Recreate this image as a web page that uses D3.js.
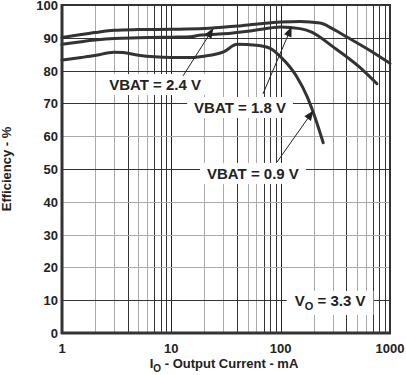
<!DOCTYPE html>
<html>
<head>
<meta charset="utf-8">
<script src="https://cdn.jsdelivr.net/npm/d3@7"></script>
<style>
  body { margin: 0; background: #fff; }
  svg text { font-family: "Liberation Sans", Arial, sans-serif; font-weight: bold; fill: #222; }
</style>
</head>
<body>
<svg id="chart"></svg>
<script>
// values: [output current mA, efficiency %]
const vbat24 = [[1,90.1],[1.5,91],[2,91.6],[3,92.3],[5,92.5],[10,92.6],[20,92.8],[40,93.6],[65,94.3],[100,94.8],[150,95],[230,94.5],[300,92.7],[400,90.3],[650,86.2],[1000,82.2]]
const vbat18 = [[1,88],[1.5,88.8],[2,89.3],[3,89.8],[5,90],[10,90.2],[15,90.3],[18,90.8],[30,91.2],[50,92],[80,93],[100,93.3],[150,92.8],[190,91.8],[300,87.3],[530,81],[760,76]]
const vbat09 = [[1,83.2],[1.5,84],[2,84.6],[3,85.6],[3.6,85.5],[5,84.7],[7,84.2],[10,84],[15,84],[20,84.4],[30,85.7],[40,88],[60,87.7],[80,86.8],[100,84.2],[140,78.2],[175,72],[200,67],[245,58]]

const xTicks = [1,10,100,1000]
const yTicks = [0,10,20,30,40,50,60,70,80,90,100]
const yDark = [10,50,70,80,90]
const minorDark = [4,7,8,9]

// annotations: label centre, arrow start, arrow tip (data coords)
const notes = [
  {text:'VBAT = 2.4 V', at:[7.1,75.6], from:[12.8,78.4], to:[24,92.7]},
  {text:'VBAT = 1.8 V', at:[42.5,68.6], from:[68.9,72.9], to:[125,93.1]},
  {text:'VBAT = 0.9 V', at:[55.8,48.5], from:[92.5,52.1], to:[197,67.6]}
]

const W = 406, H = 375
const m = {top:5, right:16, bottom:42, left:62}
const iw = W - m.left - m.right
const ih = H - m.top - m.bottom

const svg = d3.select('#chart').attr('width', W).attr('height', H)
const g = svg.append('g').attr('transform', `translate(${m.left},${m.top})`)

const x = d3.scaleLog().domain([1,1000]).range([0,iw])
const y = d3.scaleLinear().domain([0,100]).range([ih,0])

// grid
const minors = []
for (let d = 1; d < 1000; d *= 10)
  for (let k = 2; k <= 9; k++) minors.push({v:d*k, k:k})
g.selectAll('.vgrid').data(minors).enter().append('line')
  .attr('x1', d => Math.round(x(d.v)) + 0.5).attr('x2', d => Math.round(x(d.v)) + 0.5)
  .attr('y1', 0).attr('y2', ih)
  .attr('stroke', d => minorDark.includes(d.k) ? '#333' : '#aaa')
g.selectAll('.vmajor').data([10,100]).enter().append('line')
  .attr('x1', d => Math.round(x(d)) + 0.5).attr('x2', d => Math.round(x(d)) + 0.5)
  .attr('y1', 0).attr('y2', ih).attr('stroke', '#222')
g.selectAll('.hgrid').data(yTicks.slice(1,-1)).enter().append('line')
  .attr('x1', 0).attr('x2', iw)
  .attr('y1', d => Math.round(y(d)) + 0.5).attr('y2', d => Math.round(y(d)) + 0.5)
  .attr('stroke', d => yDark.includes(d) ? '#333' : '#aaa')

// V_O label box (drawn before curves)
const vo = g.append('g')
const voRect = vo.append('rect').attr('fill', '#fff')
const voText = vo.append('text').attr('x', x(283)).attr('y', y(9.76) + 5)
  .attr('text-anchor', 'middle').attr('font-size', 15)
voText.append('tspan').text('V')
voText.append('tspan').attr('font-size', 11).attr('dy', 4).text('O')
voText.append('tspan').attr('dy', -4).text(' = 3.3 V')
const vb = voText.node().getBBox()
voRect.attr('x', vb.x - 8).attr('y', vb.y - 1).attr('width', vb.width + 16).attr('height', vb.height + 4)

// frame
g.append('rect').attr('x', 0).attr('y', 0).attr('width', iw).attr('height', ih)
  .attr('fill', 'none').attr('stroke', '#333').attr('stroke-width', 2)
g.append('line').attr('x1', 0).attr('x2', 0).attr('y1', -1).attr('y2', ih + 1)
  .attr('stroke', '#333').attr('stroke-width', 3)
g.append('line').attr('x1', -1).attr('x2', iw + 1).attr('y1', ih).attr('y2', ih)
  .attr('stroke', '#333').attr('stroke-width', 3)

// curves
const line = d3.line().x(d => x(d[0])).y(d => y(d[1])).curve(d3.curveMonotoneX)
g.selectAll('.curve').data([vbat24, vbat18, vbat09]).enter().append('path')
  .attr('d', line).attr('fill', 'none').attr('stroke', '#333')
  .attr('stroke-width', 3).attr('stroke-linejoin', 'round').attr('stroke-linecap', 'round')

// arrows
svg.append('defs').append('marker').attr('id', 'arr')
  .attr('viewBox', '0 0 10 10').attr('refX', 9).attr('refY', 5)
  .attr('markerWidth', 12).attr('markerHeight', 10).attr('markerUnits', 'userSpaceOnUse')
  .attr('orient', 'auto')
  .append('path').attr('d', 'M0,1 L10,5 L0,9 Z').attr('fill', '#222')

notes.forEach(n => {
  const lab = g.append('g')
  const r = lab.append('rect').attr('fill', '#fff')
  const t = lab.append('text').attr('x', x(n.at[0])).attr('y', y(n.at[1]) + 5)
    .attr('text-anchor', 'middle').attr('font-size', 15).text(n.text)
  const b = t.node().getBBox()
  r.attr('x', b.x - 7).attr('y', b.y - 2).attr('width', b.width + 14).attr('height', b.height + 4)
  g.append('line').attr('x1', x(n.from[0])).attr('y1', y(n.from[1]))
    .attr('x2', x(n.to[0])).attr('y2', y(n.to[1]))
    .attr('stroke', '#222').attr('stroke-width', 1).attr('marker-end', 'url(#arr)')
})

// tick labels
g.selectAll('.xt').data(xTicks).enter().append('text')
  .attr('x', d => x(d)).attr('y', ih + 20).attr('text-anchor', 'middle')
  .attr('font-size', 13).text(d => d)
g.selectAll('.yt').data(yTicks).enter().append('text')
  .attr('x', -4).attr('y', d => y(d) + 5).attr('text-anchor', 'end')
  .attr('font-size', 13).text(d => d)

// axis titles
const xt = svg.append('text').attr('x', m.left + iw / 2 - 2).attr('y', H - 7)
  .attr('text-anchor', 'middle').attr('font-size', 13)
xt.append('tspan').text('I')
xt.append('tspan').attr('font-size', 10).attr('dy', 4).text('O')
xt.append('tspan').attr('dy', -4).text(' - Output Current - mA')

svg.append('text').attr('transform', `translate(11,${m.top + ih / 2}) rotate(-90)`)
  .attr('text-anchor', 'middle').attr('font-size', 13).text('Efficiency - %')
</script>
</body>
</html>
